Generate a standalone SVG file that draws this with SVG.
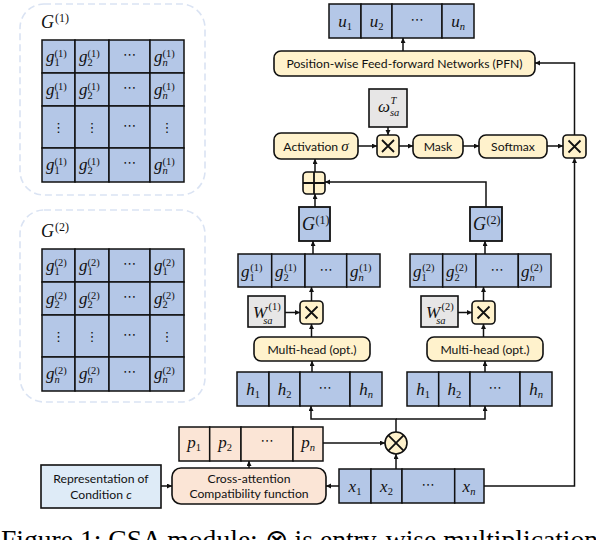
<svg xmlns="http://www.w3.org/2000/svg" width="596" height="540" viewBox="0 0 596 540">
<style>
.b{fill:#b4c7e7;stroke:#111;stroke-width:1.5}
.pk{fill:#fbe5d6;stroke:#111;stroke-width:1.5}
.yl{fill:#fff2cc;stroke:#111;stroke-width:1.6}
.gr{fill:#e7e6e6;stroke:#111;stroke-width:1.6}
.lb{fill:#deebf7;stroke:#111;stroke-width:1.6}
.pan{fill:none;stroke:#dae3f3;stroke-width:1.6;stroke-dasharray:7 4}
.op{stroke:#111;stroke-width:1.8;fill:none}
.t{font-family:Lato,"Liberation Sans",sans-serif;font-size:12.2px;fill:#111;text-anchor:middle}
.m{font-family:"Liberation Serif",serif;font-style:italic;font-size:17px;fill:#111}
.mc{font-family:"Liberation Serif",serif;font-style:italic;font-size:17px;fill:#111;text-anchor:middle}
.s{font-family:"Liberation Serif",serif;font-style:normal;font-size:10.5px;fill:#111}
.si{font-family:"Liberation Serif",serif;font-style:italic;font-size:10.5px;fill:#111}
.d{font-family:"DejaVu Sans",sans-serif;font-style:normal;font-size:13px;fill:#111;text-anchor:middle}
.c{fill:none;stroke:#111;stroke-width:1.5}
.cap{font-family:"Liberation Serif",serif;font-size:27.6px;fill:#000}
</style>
<defs>
<marker id="ah" markerUnits="userSpaceOnUse" markerWidth="6" markerHeight="6" refX="5" refY="2.5" orient="auto"><path d="M0,0 L5,2.5 L0,5 z" fill="#111"/></marker>
</defs>

<!-- Panel G1 -->
<g id="panel-g1">
<rect class="pan" x="20" y="4" width="185" height="191" rx="24"/>
<text class="m" x="41" y="28" style="font-size:18px">G<tspan class="s" style="font-size:12px" dx="1" dy="-6">(1)</tspan></text>
<rect class="b" x="42" y="40" width="33" height="33"/><rect class="b" x="75" y="40" width="34" height="33"/><rect class="b" x="109" y="40" width="41" height="33"/><rect class="b" x="150" y="40" width="34" height="33"/>
<rect class="b" x="42" y="73" width="33" height="33"/><rect class="b" x="75" y="73" width="34" height="33"/><rect class="b" x="109" y="73" width="41" height="33"/><rect class="b" x="150" y="73" width="34" height="33"/>
<rect class="b" x="42" y="106" width="33" height="42"/><rect class="b" x="75" y="106" width="34" height="42"/><rect class="b" x="109" y="106" width="41" height="42"/><rect class="b" x="150" y="106" width="34" height="42"/>
<rect class="b" x="42" y="148" width="33" height="34"/><rect class="b" x="75" y="148" width="34" height="34"/><rect class="b" x="109" y="148" width="41" height="34"/><rect class="b" x="150" y="148" width="34" height="34"/>
<text class="m" x="46" y="62">g<tspan class="s" dy="4">1</tspan><tspan class="s" dx="-5.25" dy="-9">(1)</tspan></text>
<text class="m" x="79" y="62">g<tspan class="s" dy="4">2</tspan><tspan class="s" dx="-5.25" dy="-9">(1)</tspan></text>
<text class="d" x="129.5" y="59">⋯</text>
<text class="m" x="154" y="62">g<tspan class="si" dy="4">n</tspan><tspan class="s" dx="-5.25" dy="-9">(1)</tspan></text>
<text class="m" x="46" y="95">g<tspan class="s" dy="4">1</tspan><tspan class="s" dx="-5.25" dy="-9">(1)</tspan></text>
<text class="m" x="79" y="95">g<tspan class="s" dy="4">2</tspan><tspan class="s" dx="-5.25" dy="-9">(1)</tspan></text>
<text class="d" x="129.5" y="92">⋯</text>
<text class="m" x="154" y="95">g<tspan class="si" dy="4">n</tspan><tspan class="s" dx="-5.25" dy="-9">(1)</tspan></text>
<text class="d" x="58.5" y="132">⋮</text><text class="d" x="92" y="132">⋮</text><text class="d" x="129.5" y="130">⋯</text><text class="d" x="167" y="132">⋮</text>
<text class="m" x="46" y="170">g<tspan class="s" dy="4">1</tspan><tspan class="s" dx="-5.25" dy="-9">(1)</tspan></text>
<text class="m" x="79" y="170">g<tspan class="s" dy="4">2</tspan><tspan class="s" dx="-5.25" dy="-9">(1)</tspan></text>
<text class="d" x="129.5" y="167">⋯</text>
<text class="m" x="154" y="170">g<tspan class="si" dy="4">n</tspan><tspan class="s" dx="-5.25" dy="-9">(1)</tspan></text>
</g>

<!-- Panel G2 -->
<g id="panel-g2">
<rect class="pan" x="20" y="210" width="185" height="192" rx="24"/>
<text class="m" x="41" y="237" style="font-size:18px">G<tspan class="s" style="font-size:12px" dx="1" dy="-6">(2)</tspan></text>
<rect class="b" x="42" y="249" width="33" height="33"/><rect class="b" x="75" y="249" width="34" height="33"/><rect class="b" x="109" y="249" width="41" height="33"/><rect class="b" x="150" y="249" width="34" height="33"/>
<rect class="b" x="42" y="282" width="33" height="33"/><rect class="b" x="75" y="282" width="34" height="33"/><rect class="b" x="109" y="282" width="41" height="33"/><rect class="b" x="150" y="282" width="34" height="33"/>
<rect class="b" x="42" y="315" width="33" height="42"/><rect class="b" x="75" y="315" width="34" height="42"/><rect class="b" x="109" y="315" width="41" height="42"/><rect class="b" x="150" y="315" width="34" height="42"/>
<rect class="b" x="42" y="357" width="33" height="34"/><rect class="b" x="75" y="357" width="34" height="34"/><rect class="b" x="109" y="357" width="41" height="34"/><rect class="b" x="150" y="357" width="34" height="34"/>
<text class="m" x="46" y="271">g<tspan class="s" dy="4">1</tspan><tspan class="s" dx="-5.25" dy="-9">(2)</tspan></text>
<text class="m" x="79" y="271">g<tspan class="s" dy="4">1</tspan><tspan class="s" dx="-5.25" dy="-9">(2)</tspan></text>
<text class="d" x="129.5" y="268">⋯</text>
<text class="m" x="154" y="271">g<tspan class="s" dy="4">1</tspan><tspan class="s" dx="-5.25" dy="-9">(2)</tspan></text>
<text class="m" x="46" y="304">g<tspan class="s" dy="4">2</tspan><tspan class="s" dx="-5.25" dy="-9">(2)</tspan></text>
<text class="m" x="79" y="304">g<tspan class="s" dy="4">2</tspan><tspan class="s" dx="-5.25" dy="-9">(2)</tspan></text>
<text class="d" x="129.5" y="301">⋯</text>
<text class="m" x="154" y="304">g<tspan class="s" dy="4">2</tspan><tspan class="s" dx="-5.25" dy="-9">(2)</tspan></text>
<text class="d" x="58.5" y="341">⋮</text><text class="d" x="92" y="341">⋮</text><text class="d" x="129.5" y="339">⋯</text><text class="d" x="167" y="341">⋮</text>
<text class="m" x="46" y="379">g<tspan class="si" dy="4">n</tspan><tspan class="s" dx="-5.25" dy="-9">(2)</tspan></text>
<text class="m" x="79" y="379">g<tspan class="si" dy="4">n</tspan><tspan class="s" dx="-5.25" dy="-9">(2)</tspan></text>
<text class="d" x="129.5" y="376">⋯</text>
<text class="m" x="154" y="379">g<tspan class="si" dy="4">n</tspan><tspan class="s" dx="-5.25" dy="-9">(2)</tspan></text>
</g>

<!-- Connectors -->
<g id="connectors" class="c">
<path d="M403,51 V38" marker-end="url(#ah)"/>
<path d="M574.5,135 V63 H535" marker-end="url(#ah)"/>
<path d="M388,127 V135" marker-end="url(#ah)"/>
<path d="M358,146 H377" marker-end="url(#ah)"/>
<path d="M399,146 H413" marker-end="url(#ah)"/>
<path d="M463,146 H479" marker-end="url(#ah)"/>
<path d="M547,146 H563" marker-end="url(#ah)"/>
<path d="M315,172 V159" marker-end="url(#ah)"/>
<path d="M315,207 V194" marker-end="url(#ah)"/>
<path d="M486,207 V182 H325" marker-end="url(#ah)"/>
<path d="M313,254 V241" marker-end="url(#ah)"/>
<path d="M485,254 V241" marker-end="url(#ah)"/>
<path d="M311.5,301 V287" marker-end="url(#ah)"/>
<path d="M483.5,301 V287" marker-end="url(#ah)"/>
<path d="M285,312.5 H300" marker-end="url(#ah)"/>
<path d="M458,312.5 H472" marker-end="url(#ah)"/>
<path d="M311.5,337 V324" marker-end="url(#ah)"/>
<path d="M483.5,337 V324" marker-end="url(#ah)"/>
<path d="M312,372 V361" marker-end="url(#ah)"/>
<path d="M485,372 V361" marker-end="url(#ah)"/>
<path d="M396,432 V419 H311 V406" marker-end="url(#ah)"/>
<path d="M396,419 H485 V406" marker-end="url(#ah)"/>
<path d="M323,443 H385" marker-end="url(#ah)"/>
<path d="M396,469 V454" marker-end="url(#ah)"/>
<path d="M249,468 V461" marker-end="url(#ah)"/>
<path d="M161,486 H172" marker-end="url(#ah)"/>
<path d="M339,486 H326" marker-end="url(#ah)"/>
<path d="M484,486 H574.5 V158" marker-end="url(#ah)"/>
</g>

<!-- u row -->
<g id="u-row">
<rect class="b" x="329" y="4" width="32" height="34"/><rect class="b" x="361" y="4" width="31" height="34"/><rect class="b" x="392" y="4" width="50" height="34"/><rect class="b" x="442" y="4" width="32" height="34"/>
<text class="mc" x="345" y="27">u<tspan class="s" dy="3">1</tspan></text>
<text class="mc" x="376.5" y="27">u<tspan class="s" dy="3">2</tspan></text>
<text class="d" x="417" y="24">⋯</text>
<text class="mc" x="458" y="27">u<tspan class="si" dy="3">n</tspan></text>
</g>

<g id="pfn"><rect class="yl" x="274" y="51" width="261" height="25" rx="7"/><text class="t" x="404.5" y="68">Position-wise Feed-forward Networks (PFN)</text></g>

<g id="omega"><rect class="gr" x="369" y="89" width="38" height="38"/><text class="m" x="378" y="112">ω<tspan class="si" dx="0" dy="4">sa</tspan><tspan class="si" dx="-8.8" dy="-12">T</tspan></text></g>

<g id="activation"><rect class="yl" x="274" y="133" width="84" height="26" rx="7"/><text class="t" x="316" y="150.5">Activation <tspan style="font-family:'Liberation Serif',serif;font-style:italic;font-size:15px">σ</tspan></text></g>

<g id="mul-top"><rect class="yl" x="377" y="135" width="22" height="22" rx="4"/><path class="op" d="M382,140 L394,152 M394,140 L382,152"/></g>

<g id="mask"><rect class="yl" x="413" y="135" width="50" height="23" rx="7"/><text class="t" x="438" y="151">Mask</text></g>

<g id="softmax"><rect class="yl" x="479" y="135" width="68" height="23" rx="7"/><text class="t" x="513" y="151">Softmax</text></g>

<g id="mul-right"><rect class="yl" x="563" y="135" width="23" height="23" rx="4"/><path class="op" d="M568.5,140.5 L580.5,152.5 M580.5,140.5 L568.5,152.5"/></g>

<g id="add"><rect class="yl" x="303" y="172" width="22" height="22" rx="4"/><path class="op" d="M303,183 H325 M314,172 V194"/></g>

<g id="G1"><rect class="b" x="299" y="207" width="31" height="34" style="stroke-width:1.8"/><text class="m" x="302" y="230" style="font-size:18px">G<tspan class="s" style="font-size:12px" dx="0.5" dy="-6">(1)</tspan></text></g>

<g id="G2"><rect class="b" x="470" y="207" width="32" height="34" style="stroke-width:1.8"/><text class="m" x="473" y="230" style="font-size:18px">G<tspan class="s" style="font-size:12px" dx="0.5" dy="-6">(2)</tspan></text></g>

<g id="g1-row">
<rect class="b" x="238" y="254" width="33.7" height="33"/><rect class="b" x="271.7" y="254" width="33.3" height="33"/><rect class="b" x="305" y="254" width="41.7" height="33"/><rect class="b" x="346.7" y="254" width="33.3" height="33"/>
<text class="m" x="241" y="277">g<tspan class="s" dy="4">1</tspan><tspan class="s" dx="-4.5" dy="-10">(1)</tspan></text>
<text class="m" x="275" y="277">g<tspan class="s" dy="4">2</tspan><tspan class="s" dx="-4.5" dy="-10">(1)</tspan></text>
<text class="d" x="326" y="274">⋯</text>
<text class="m" x="350" y="277">g<tspan class="si" dy="4">n</tspan><tspan class="s" dx="-4.5" dy="-10">(1)</tspan></text>
</g>

<g id="g2-row">
<rect class="b" x="410" y="254" width="32.7" height="33"/><rect class="b" x="442.7" y="254" width="33.3" height="33"/><rect class="b" x="476" y="254" width="42.3" height="33"/><rect class="b" x="518.3" y="254" width="32.7" height="33"/>
<text class="m" x="413" y="277">g<tspan class="s" dy="4">1</tspan><tspan class="s" dx="-4.5" dy="-10">(2)</tspan></text>
<text class="m" x="446" y="277">g<tspan class="s" dy="4">2</tspan><tspan class="s" dx="-4.5" dy="-10">(2)</tspan></text>
<text class="d" x="497" y="274">⋯</text>
<text class="m" x="521" y="277">g<tspan class="si" dy="4">n</tspan><tspan class="s" dx="-4.5" dy="-10">(2)</tspan></text>
</g>

<g id="W1"><rect class="gr" x="248" y="296" width="37" height="31"/><text class="m" x="253" y="318">W<tspan class="si" dx="-4" dy="6">sa</tspan><tspan class="s" dx="-4" dy="-14">(1)</tspan></text></g>
<g id="mul1"><rect class="yl" x="300" y="301" width="23" height="23" rx="4"/><path class="op" d="M305.5,306.5 L317.5,318.5 M317.5,306.5 L305.5,318.5"/></g>

<g id="W2"><rect class="gr" x="421" y="296" width="37" height="31"/><text class="m" x="426" y="318">W<tspan class="si" dx="-4" dy="6">sa</tspan><tspan class="s" dx="-4" dy="-14">(2)</tspan></text></g>
<g id="mul2"><rect class="yl" x="472" y="301" width="23" height="23" rx="4"/><path class="op" d="M477.5,306.5 L489.5,318.5 M489.5,306.5 L477.5,318.5"/></g>

<g id="mh1"><rect class="yl" x="254" y="337" width="116" height="24" rx="7"/><text class="t" x="312" y="353.5">Multi-head (opt.)</text></g>
<g id="mh2"><rect class="yl" x="427" y="337" width="116" height="24" rx="7"/><text class="t" x="485" y="353.5">Multi-head (opt.)</text></g>

<g id="h-row1">
<rect class="b" x="237" y="372" width="32" height="34"/><rect class="b" x="269" y="372" width="31" height="34"/><rect class="b" x="300" y="372" width="50" height="34"/><rect class="b" x="350" y="372" width="32" height="34"/>
<text class="mc" x="253" y="395">h<tspan class="s" dy="3">1</tspan></text>
<text class="mc" x="284.5" y="395">h<tspan class="s" dy="3">2</tspan></text>
<text class="d" x="325" y="392">⋯</text>
<text class="mc" x="366" y="395">h<tspan class="si" dy="3">n</tspan></text>
</g>

<g id="h-row2">
<rect class="b" x="407" y="372" width="31.7" height="34"/><rect class="b" x="438.7" y="372" width="31.3" height="34"/><rect class="b" x="470" y="372" width="50" height="34"/><rect class="b" x="520" y="372" width="32" height="34"/>
<text class="mc" x="423" y="395">h<tspan class="s" dy="3">1</tspan></text>
<text class="mc" x="454.3" y="395">h<tspan class="s" dy="3">2</tspan></text>
<text class="d" x="495" y="392">⋯</text>
<text class="mc" x="536" y="395">h<tspan class="si" dy="3">n</tspan></text>
</g>

<g id="otimes"><circle cx="396" cy="443" r="11" class="yl"/><path class="op" d="M388.2,435.2 L403.8,450.8 M403.8,435.2 L388.2,450.8"/></g>

<g id="p-row">
<rect class="pk" x="179" y="427" width="30.7" height="34"/><rect class="pk" x="209.7" y="427" width="31.3" height="34"/><rect class="pk" x="241" y="427" width="52" height="34"/><rect class="pk" x="293" y="427" width="30" height="34"/>
<text class="mc" x="194" y="448">p<tspan class="s" dy="3">1</tspan></text>
<text class="mc" x="225" y="448">p<tspan class="s" dy="3">2</tspan></text>
<text class="d" x="267" y="445">⋯</text>
<text class="mc" x="308" y="448">p<tspan class="si" dy="3">n</tspan></text>
</g>

<g id="representation"><rect class="lb" x="41" y="465" width="120" height="43"/><text class="t" x="101" y="483">Representation of</text><text class="t" x="101" y="499">Condition <tspan style="font-style:italic">c</tspan></text></g>

<g id="cross-attention"><rect class="pk" x="172" y="468" width="154" height="36" rx="9" style="stroke-width:1.6"/><text class="t" x="249" y="483">Cross-attention</text><text class="t" x="249" y="498">Compatibility function</text></g>

<g id="x-row">
<rect class="b" x="339" y="469" width="32" height="34"/><rect class="b" x="371" y="469" width="31" height="34"/><rect class="b" x="402" y="469" width="52.7" height="34"/><rect class="b" x="454.7" y="469" width="29.3" height="34"/>
<text class="mc" x="355" y="492">x<tspan class="s" dy="3">1</tspan></text>
<text class="mc" x="386.5" y="492">x<tspan class="s" dy="3">2</tspan></text>
<text class="d" x="428" y="489">⋯</text>
<text class="mc" x="469" y="492">x<tspan class="si" dy="3">n</tspan></text>
</g>

<text class="cap" x="1" y="548.5">Figure 1: CSA module: ⊗ is entry-wise multiplication</text>
</svg>
